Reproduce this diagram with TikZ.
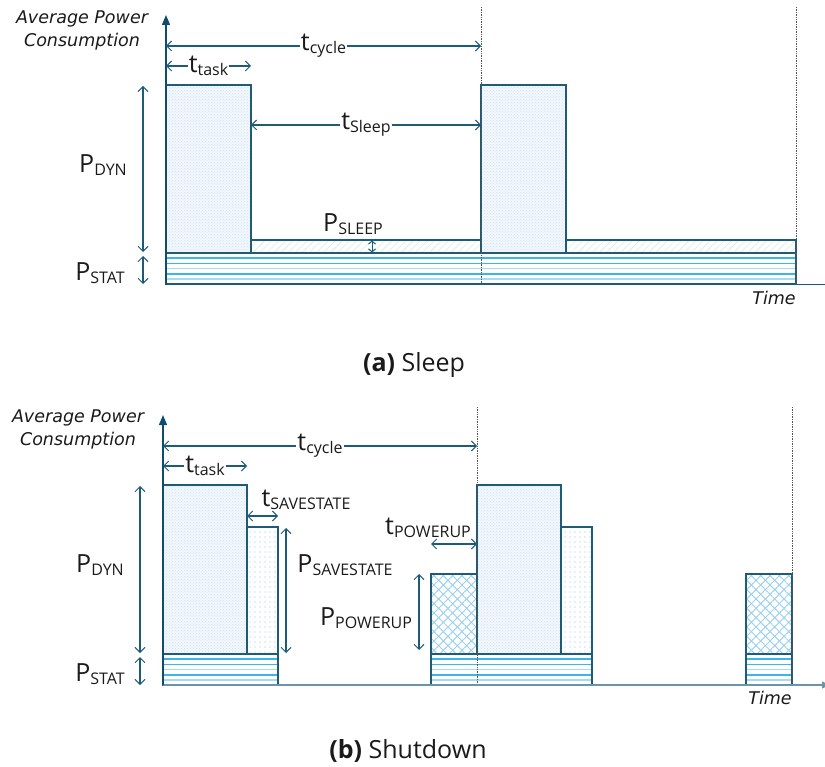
\documentclass[tikz,border=0pt]{standalone}
\usepackage{fontspec}
\setmainfont{Open Sans}
\newfontfamily\axfont{DejaVu Sans}
\usetikzlibrary{arrows.meta,patterns,patterns.meta}

\definecolor{edge}{HTML}{1D5B79}
\definecolor{axisdark}{HTML}{0E4D6E}
\definecolor{axisgrey}{HTML}{6A94AA}
\definecolor{ink}{HTML}{1A1A1A}
\definecolor{taskbg}{HTML}{F2F7FC}
\definecolor{taskdot}{HTML}{CFE3F4}
\definecolor{savedot}{HTML}{8CC6EA}
\definecolor{crossline}{HTML}{9FD2F0}
\definecolor{stripeA}{HTML}{3CB6E6}
\definecolor{stripeB}{HTML}{A6DCF2}
\definecolor{sleephatch}{HTML}{D5EEDD}
\definecolor{gridline}{HTML}{555555}

% label with lowered subscript text
\newcommand\sublbl[2]{#1\raisebox{-3pt}{\fontsize{16}{16}\selectfont #2}}

% static-power band: x1, x2, top y (31 units high)
\newcommand\statband[3]{%
  \fill[white] ({#1},{#3}) rectangle ({#2},{#3+31});
  \foreach \k/\c/\w in {1/stripeA/1.5,2/stripeA/1.5,3/stripeB/1.1,4/stripeA/1.5,5/stripeB/1.1}
    \draw[\c, line width=\w pt] ({#1},{#3+\k*5.2}) -- ({#2},{#3+\k*5.2});
  \draw[edge, line width=1.2pt] ({#1},{#3}) rectangle ({#2},{#3+31});
}

\tikzset{
  lbl/.style={font=\fontsize{25}{25}\selectfont, text=ink, inner sep=1pt},
  axlbl/.style={font=\axfont\itshape\fontsize{17.5}{23}\selectfont, text=ink, align=center, inner sep=0pt},
  caption/.style={font=\fontsize{25}{25}\selectfont, text=ink, inner sep=0pt},
  barb/.tip={Straight Barb[length=5pt,width=10pt,line width=1pt]},
  smallbarb/.tip={Straight Barb[length=3pt,width=7pt,line width=1pt]},
  dim/.style={draw=edge, line width=1.1pt, barb-barb},
  taskblk/.style={draw=edge, line width=1.2pt, preaction={fill=taskbg},
    pattern=crosshatch dots, pattern color=taskdot},
  saveblk/.style={draw=edge, line width=1.2pt, preaction={fill=white},
    pattern={Dots[distance=5pt,radius=0.65pt]}, pattern color=savedot},
  powerblk/.style={draw=edge, line width=1.2pt, preaction={fill=white},
    preaction={pattern={Lines[angle=45,distance=6.6pt,line width=1pt]}, pattern color=crossline},
    pattern={Lines[angle=-45,distance=6.6pt,line width=1pt]}, pattern color=crossline},
  sleepblk/.style={draw=edge, line width=1.2pt, preaction={fill=white},
    pattern={Lines[angle=45,distance=5pt,line width=0.6pt]}, pattern color=sleephatch},
  period/.style={draw=gridline, line width=0.7pt, densely dotted},
}

\begin{document}
\begin{tikzpicture}[x=1pt,y=-1pt]
\useasboundingbox (0,0) rectangle (825,767);

% ---------------- (a) Sleep ----------------
\statband{166}{796}{253}
\draw[sleepblk] (251,240) rectangle (481,253);
\draw[sleepblk] (566,240) rectangle (796,253);
\draw[taskblk] (166,85) rectangle (251,253);
\draw[taskblk] (481,85) rectangle (566,253);

% axes
\draw[edge, line width=1.3pt] (166,284.5) -- (825,284.5);
\draw[axisdark, line width=1.3pt, -{Triangle[length=10pt,width=8pt]}] (166,285) -- (166,15);

% period markers
\draw[period] (481.5,7) -- (481.5,284);
\draw[period] (796,7) -- (796,284);

% dimensions
\draw[dim] (166,46) -- node[lbl, fill=white] (tcycA) {\sublbl{t}{cycle}} (481,46);
\draw[dim] (166,66) -- node[lbl, fill=white] (ttaskA) {\sublbl{t}{task}} (251,66);
\draw[dim] (251,125) -- node[lbl, fill=white] (tsleepA) {\sublbl{t}{Sleep}} (481,125);
\draw[dim] (143,86) -- (143,252);
\draw[dim] (143,256) -- (143,284);
\draw[draw=edge, line width=1pt, smallbarb-smallbarb] (372,240.5) -- (372,252.5);

\node[lbl] (pdynA) at (103,165) {\sublbl{P}{DYN}};
\node[lbl] (pstatA) at (100,273) {\sublbl{P}{STAT}};
\node[lbl] (psleepA) at (353,224) {\sublbl{P}{SLEEP}};
\node[axlbl] (yaxA) at (82,30) {Average Power\\Consumption};
\node[axlbl] (xaxA) at (774,298) {Time};
\node[caption] (capA) at (414,365) {\textbf{(a)} Sleep};

% ---------------- (b) Shutdown ----------------
\statband{163}{278}{654}
\statband{431}{592}{654}
\statband{746}{792}{654}
\draw[taskblk] (163,485) rectangle (247,654);
\draw[saveblk] (247,527) rectangle (278,654);
\draw[powerblk] (431,574) rectangle (477,654);
\draw[taskblk] (477,485) rectangle (561,654);
\draw[saveblk] (561,527) rectangle (592,654);
\draw[powerblk] (746,574) rectangle (792,654);

% axes
\draw[axisgrey, line width=1.6pt, -{Triangle[length=7pt,width=7pt]}] (163,685) -- (829,685);
\draw[axisdark, line width=1.3pt, -{Triangle[length=10pt,width=8pt]}] (163,685) -- (163,415);

% period markers
\draw[period] (477,407) -- (477,684);
\draw[period] (792,407) -- (792,684);

% dimensions
\draw[dim] (163,446) -- node[lbl, fill=white] (tcycB) {\sublbl{t}{cycle}} (477,446);
\draw[dim] (163,466) -- node[lbl, fill=white] (ttaskB) {\sublbl{t}{task}} (247,466);
\draw[dim] (247,516) -- (278,516);
\draw[dim] (431,544) -- (477,544);
\draw[dim] (140,486) -- (140,653);
\draw[dim] (140,657) -- (140,685);
\draw[dim] (286,528) -- (286,653);
\draw[dim] (419,574) -- (419,650);

\node[lbl] (tsaveB) at (306,500) {\sublbl{t}{SAVESTATE}};
\node[lbl] (tpowB) at (428,528) {\sublbl{t}{POWERUP}};
\node[lbl] (psaveB) at (345,565) {\sublbl{P}{SAVESTATE}};
\node[lbl] (ppowB) at (366,618) {\sublbl{P}{POWERUP}};
\node[lbl] (pdynB) at (100,565) {\sublbl{P}{DYN}};
\node[lbl] (pstatB) at (100,674) {\sublbl{P}{STAT}};
\node[axlbl] (yaxB) at (78,429) {Average Power\\Consumption};
\node[axlbl] (xaxB) at (770,698) {Time};
\node[caption] (capB) at (408,751) {\textbf{(b)} Shutdown};
\end{tikzpicture}
\end{document}
